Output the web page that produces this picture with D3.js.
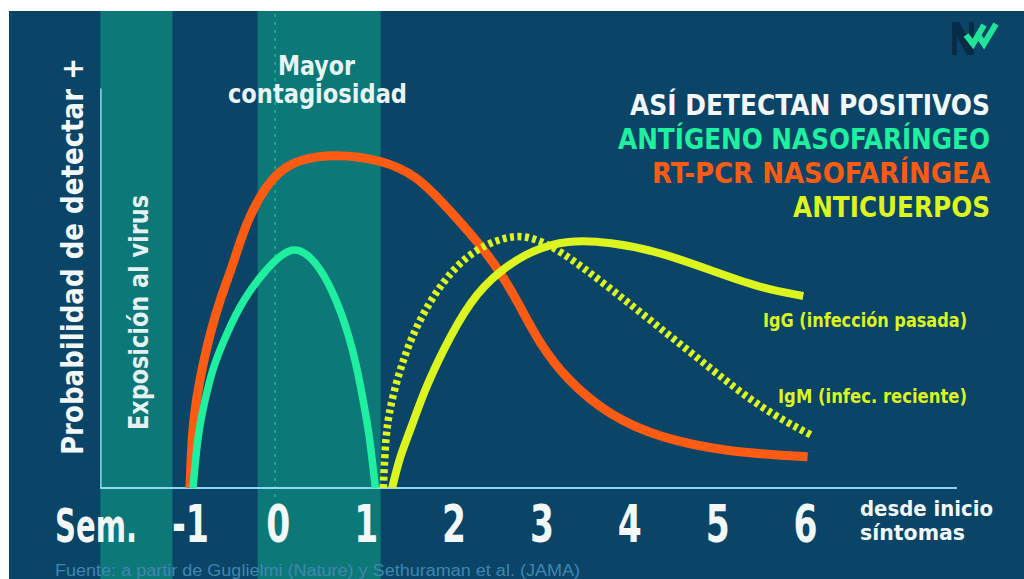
<!DOCTYPE html>
<html>
<head>
<meta charset="utf-8">
<script src="https://cdn.jsdelivr.net/npm/d3@7"></script>
<style>
  html, body { margin: 0; padding: 0; background: #ffffff; }
  svg { display: block; }
  text { font-family: "Liberation Sans Narrow", "Arial Narrow", "DejaVu Sans Condensed", sans-serif; font-weight: bold; }
</style>
</head>
<body>
<svg id="chart" width="1024" height="579"></svg>
<script>
// Weeks since symptom onset shown on the axis
const weeks = [-1, 0, 1, 2, 3, 4, 5, 6];
const tickLabels = ["-1", "0", "1", "2", "3", "4", "5", "6"];

// Shaded periods (in weeks)
const exposureBand = [-2.02, -1.2];
const contagionBand = [-0.23, 1.17];
const contagionMark = -0.03;
const axisEnd = 7.73;

// Probability of a positive result, by week
const antigenWeeks = [-0.966, -0.91, -0.83, -0.74, -0.58, -0.40, -0.12, 0.14, 0.31, 0.48, 0.67, 0.80, 0.90, 0.97, 1.04, 1.11];
const antigenProb  = [0.00, 0.1375, 0.22, 0.3025, 0.3875, 0.47, 0.5525, 0.6025, 0.59, 0.5525, 0.47, 0.3875, 0.3025, 0.22, 0.1375, 0.00];

const pcrWeeks = [-1.00, -0.977, -0.93, -0.86, -0.77, -0.66, -0.52, -0.40, -0.24, 0.06, 0.63, 1.20, 1.58, 1.85, 2.30, 2.53, 2.72, 2.98, 3.29, 3.78, 4.35, 5.11, 6.03];
const pcrProb  = [0.00, 0.1375, 0.22, 0.3025, 0.3875, 0.47, 0.5525, 0.6375, 0.72, 0.815, 0.8375, 0.82, 0.78, 0.72, 0.61, 0.54, 0.47, 0.36, 0.27, 0.18, 0.125, 0.09, 0.078];

const igmWeeks = [1.20, 1.22, 1.25, 1.39, 1.58, 1.88, 2.22, 2.61, 2.87, 3.21, 3.78, 4.35, 4.92, 5.49, 6.09];
const igmProb  = [0.00, 0.095, 0.18, 0.30, 0.41, 0.52, 0.595, 0.63, 0.63, 0.595, 0.50, 0.40, 0.30, 0.20, 0.13];

const iggWeeks = [1.30, 1.39, 1.50, 1.67, 1.88, 2.19, 2.53, 2.90, 3.29, 3.78, 4.35, 4.92, 5.49, 5.98];
const iggProb  = [0.00, 0.08, 0.14, 0.245, 0.345, 0.47, 0.545, 0.595, 0.62, 0.615, 0.59, 0.545, 0.50, 0.48];

const legendLines = ["ASÍ DETECTAN POSITIVOS", "ANTÍGENO NASOFARÍNGEO", "RT-PCR NASOFARÍNGEA", "ANTICUERPOS"];

const C = {
  bg: "#0a4466",
  band: "#0c7878",
  white: "#f2f7f8",
  antigen: "#1ff0a0",
  pcr: "#ff5b12",
  ab: "#dcf51e",
  axis: "#8fd6f2",
  source: "#3f87b2"
};

const W = 1024, H = 579;
const svg = d3.select("#chart");

const x = d3.scaleLinear().domain([-1, 6]).range([190, 805]);
const y = d3.scaleLinear().domain([0, 1]).range([488, 88]);

// panel background (white margin at the top and left)
svg.append("rect").attr("x", 9).attr("y", 11).attr("width", W - 9).attr("height", H - 11).attr("fill", C.bg);

// shaded periods
svg.selectAll("rect.band").data([exposureBand, contagionBand]).join("rect")
  .attr("class", "band")
  .attr("x", d => x(d[0])).attr("y", 11)
  .attr("width", d => x(d[1]) - x(d[0])).attr("height", H - 11)
  .attr("fill", C.band);

// dotted marker for peak contagiousness
svg.append("line")
  .attr("x1", x(contagionMark)).attr("x2", x(contagionMark))
  .attr("y1", 14).attr("y2", 500)
  .attr("stroke", "#27b07e").attr("stroke-width", 1.6)
  .attr("stroke-dasharray", "3,5");

// axes
const yAxis = d3.axisLeft(y).tickValues([]).tickSizeOuter(0);
svg.append("g").attr("transform", `translate(${x(exposureBand[0])},0)`).call(yAxis)
  .select(".domain").attr("stroke", C.axis).attr("stroke-width", 1.5);

svg.append("line")
  .attr("x1", x(exposureBand[0])).attr("x2", x(axisEnd))
  .attr("y1", y(0)).attr("y2", y(0))
  .attr("stroke", C.axis).attr("stroke-width", 2);

const xAxis = d3.axisBottom(x).tickValues(weeks).tickFormat((d, i) => tickLabels[i]).tickSize(0);
const gx = svg.append("g").attr("transform", `translate(0,${y(0)})`).call(xAxis);
gx.select(".domain").remove();
gx.selectAll("text")
  .attr("y", 54).attr("dy", 0)
  .attr("fill", C.white)
  .attr("textLength", d => String(d).length > 1 ? 37 : 24)
  .attr("lengthAdjust", "spacingAndGlyphs")
  .style("font-size", "52px")
  .style("font-family", '"Liberation Sans Narrow", "Arial Narrow", "DejaVu Sans Condensed", sans-serif')
  .style("font-weight", "bold");

// curves (smooth B-spline through the sampled readings)
const line = d3.line()
  .x(d => x(d[0])).y(d => y(d[1]))
  .curve(d3.curveBasis);

const zip = (a, b) => a.map((v, i) => [v, b[i]]);

svg.append("path").datum(zip(pcrWeeks, pcrProb))
  .attr("d", line).attr("fill", "none")
  .attr("stroke", C.pcr).attr("stroke-width", 9).attr("stroke-linecap", "butt");

svg.append("path").datum(zip(antigenWeeks, antigenProb))
  .attr("d", line).attr("fill", "none")
  .attr("stroke", C.antigen).attr("stroke-width", 7.5).attr("stroke-linecap", "butt");

svg.append("path").datum(zip(igmWeeks, igmProb))
  .attr("d", line).attr("fill", "none")
  .attr("stroke", C.ab).attr("stroke-width", 7.5)
  .attr("stroke-dasharray", "4,3.5");

svg.append("path").datum(zip(iggWeeks, iggProb))
  .attr("d", line).attr("fill", "none")
  .attr("stroke", C.ab).attr("stroke-width", 8).attr("stroke-linecap", "butt");

// text helper
function label(t, px, py, size, fill, len, rot) {
  const el = svg.append("text")
    .attr("transform", `translate(${px},${py})` + (rot ? ` rotate(${rot})` : ""))
    .attr("fill", fill)
    .style("font-size", size + "px")
    .text(t);
  if (len) el.attr("textLength", len).attr("lengthAdjust", "spacingAndGlyphs");
  return el;
}

label("Probabilidad de detectar +", 83, 455, 30, C.white, 397, -90);
label("Exposición al virus", 148, 430, 27, "#e6f1f2", 235, -90);

label("Mayor", 278, 75, 26, "#e6f4f4", 77);
label("contagiosidad", 228, 103, 26, "#e6f4f4", 179);

const legendColors = [C.white, C.antigen, C.pcr, C.ab];
const legendLens = [360, 372, 338, 197];
legendLines.forEach((t, i) => {
  label(t, 990 - legendLens[i], 115 + i * 34, 28, legendColors[i], legendLens[i]);
});

label("IgG (infección pasada)", 763, 327, 20, C.ab, 204);
label("IgM (infec. reciente)", 778, 403, 20, C.ab, 189);

label("Sem.", 55, 542, 46, C.white, 82);
label("desde inicio", 860, 516, 21, C.white, 133);
label("síntomas", 860, 540, 21, C.white, 105);

svg.append("text")
  .attr("x", 55).attr("y", 576)
  .attr("fill", C.source)
  .style("font-family", '"Liberation Sans", Arial, sans-serif')
  .style("font-weight", "normal")
  .style("font-size", "16px")
  .attr("textLength", 525).attr("lengthAdjust", "spacingAndGlyphs")
  .text("Fuente: a partir de Guglielmi (Nature) y Sethuraman et al. (JAMA)");

// logo
const logo = svg.append("g").attr("transform", "translate(952,22)");
logo.append("path")
  .attr("d", "M0,33 L0,0 L7,0 L17,18 L17,0 L22,0 L22,33 L15,33 L5,15 L5,33 Z")
  .attr("fill", "#062c48");
logo.append("path")
  .attr("d", "M14,13 L21,22 L32,3 M26,13 L32,22 L44,2")
  .attr("fill", "none").attr("stroke", "#22e39a").attr("stroke-width", 6)
  .attr("stroke-linejoin", "miter");
</script>
</body>
</html>
